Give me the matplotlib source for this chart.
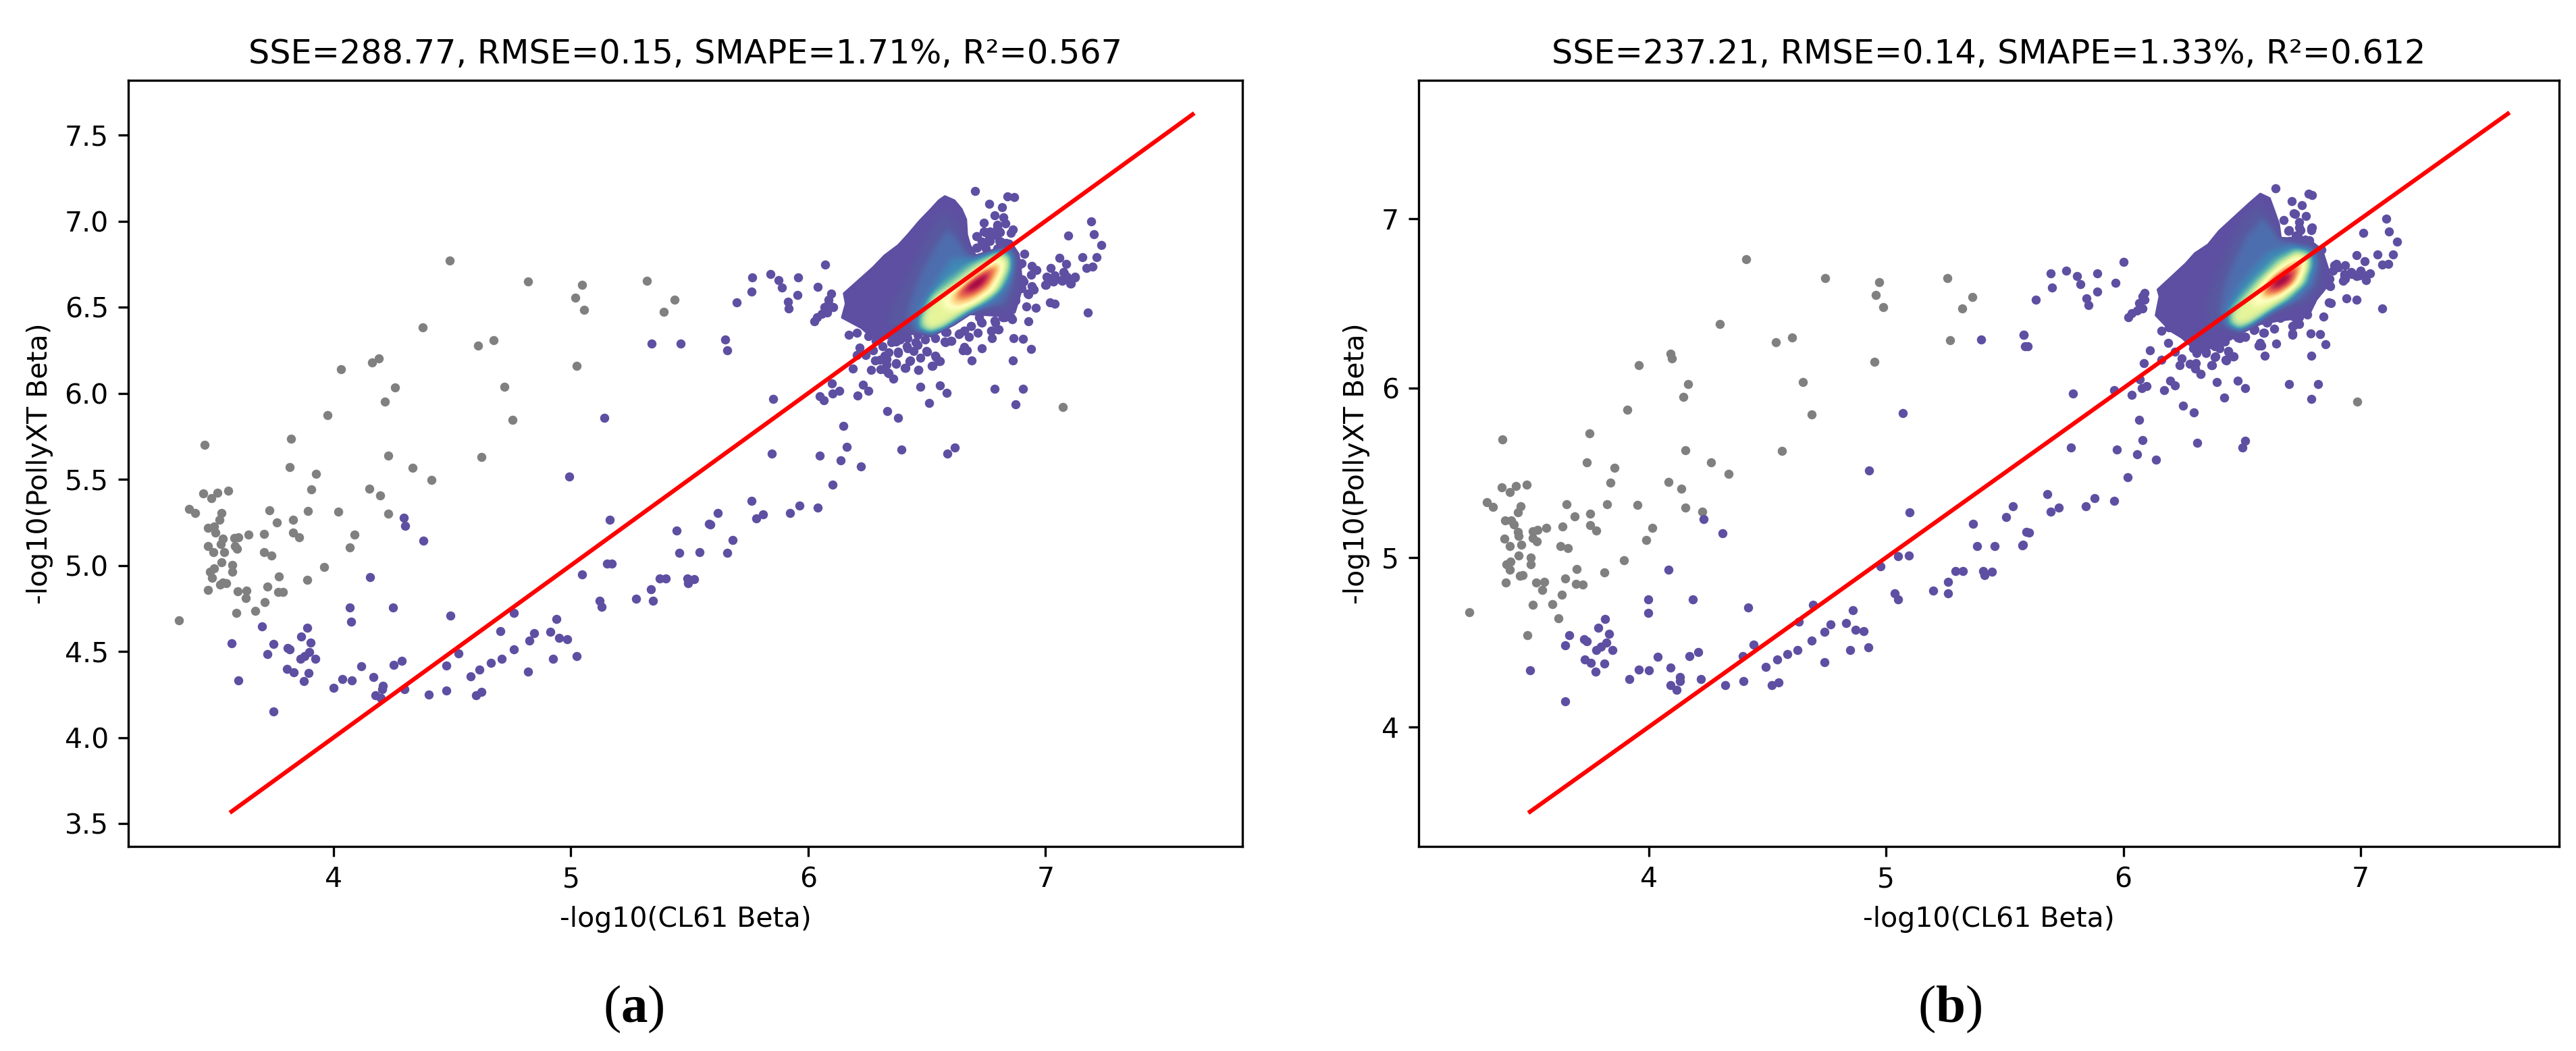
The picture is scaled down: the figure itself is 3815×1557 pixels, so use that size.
import numpy as np
import matplotlib
matplotlib.use("Agg")
import matplotlib.pyplot as plt
from matplotlib.colors import LinearSegmentedColormap
from matplotlib.path import Path
from matplotlib.patches import PathPatch

plt.rcParams["mathtext.fontset"] = "custom"
plt.rcParams["mathtext.bf"] = "Liberation Serif:bold"
plt.rcParams["mathtext.rm"] = "Liberation Serif"
plt.rcParams["font.size"] = 9.85

TITLE_A = "SSE=288.77, RMSE=0.15, SMAPE=1.71%, R²=0.567"
TITLE_B = "SSE=237.21, RMSE=0.14, SMAPE=1.33%, R²=0.612"
XLABEL = "-log10(CL61 Beta)"
YLABEL = "-log10(PollyXT Beta)"
XTICKS = [4, 5, 6, 7]
YTICKS_A = [3.5, 4.0, 4.5, 5.0, 5.5, 6.0, 6.5, 7.0, 7.5]
YTICKS_B = [4, 5, 6, 7]
LINE_A = [3.57, 7.62]
LINE_B = [3.50, 7.62]

GREY_A = [(3.348,4.679),(3.391,5.327),(3.417,5.303),(3.451,5.417),(3.485,5.390),(3.511,5.423),(3.556,5.432),(3.456,5.700),
(3.528,5.306),(3.520,5.267),(3.472,5.219),(3.495,5.225),(3.502,5.192),(3.533,5.156),(3.525,5.123),(3.471,5.114),(3.493,5.075),
(3.539,5.075),(3.582,5.159),(3.600,5.165),(3.641,5.177),(3.585,5.114),(3.592,5.096),(3.528,5.018),(3.574,5.003),(3.572,4.964),
(3.497,4.982),(3.480,4.964),(3.489,4.928),(3.533,4.901),(3.523,4.889),(3.549,4.895),(3.471,4.856),(3.595,4.850),(3.632,4.853),
(3.629,4.811),(3.590,4.724),(3.670,4.736),(3.709,4.787),(3.722,4.877),(3.766,4.847),(3.788,4.844),(3.770,4.934),(3.889,4.916),
(3.959,4.991),(3.737,5.057),(3.706,5.075),(3.708,5.183),(3.730,5.318),(3.761,5.249),(3.830,5.264),(3.828,5.192),(3.855,5.162),
(3.892,5.315),(3.905,5.441),(3.925,5.532),(3.814,5.571),(3.820,5.736),(3.975,5.871),(4.021,5.312),(4.069,5.105),(4.087,5.177),
(4.230,5.300),(4.152,5.447),(4.196,5.408),(4.230,5.637),(4.333,5.568),(4.412,5.498),(4.217,5.952),(4.260,6.033),(4.031,6.138),
(4.162,6.180),(4.190,6.204),(4.376,6.384),(4.490,6.769),(4.819,6.649),(5.020,6.556),(5.047,6.628),(5.056,6.483),(5.023,6.159),
(4.673,6.309),(4.608,6.276),(4.721,6.036),(4.755,5.847),(4.624,5.631),(5.320,6.655),(5.392,6.474),(5.436,6.544),(7.073,5.920)]

PURPLE_A = [(3.698,4.646),(3.569,4.547),(3.598,4.333),(3.722,4.486),(3.748,4.544),(3.748,4.150),(3.804,4.399),(3.833,4.378),
(3.876,4.327),(3.894,4.375),(3.806,4.520),(3.815,4.511),(3.861,4.456),(3.877,4.474),(3.899,4.498),(3.923,4.456),(3.904,4.550),
(3.864,4.586),(3.889,4.637),(4.000,4.288),(4.036,4.339),(4.077,4.333),(4.118,4.414),(4.167,4.351),(4.176,4.246),(4.204,4.279),
(4.209,4.300),(4.199,4.228),(4.252,4.420),(4.288,4.444),(4.299,4.282),(4.400,4.249),(4.475,4.273),(4.474,4.417),(4.526,4.489),
(4.577,4.354),(4.601,4.246),(4.623,4.267),(4.616,4.396),(4.662,4.432),(4.709,4.456),(4.761,4.514),(4.819,4.381),(4.825,4.562),
(4.845,4.607),(4.704,4.619),(4.761,4.724),(4.492,4.709),(4.250,4.754),(4.069,4.757),(4.075,4.673),(4.154,4.931),(4.296,5.276),
(4.302,5.231),(4.379,5.144),(4.912,4.616),(4.938,4.688),(4.949,4.577),(4.985,4.571),(4.926,4.456),(5.025,4.474),(5.046,4.949),
(4.992,5.517),(5.142,5.856),(5.165,5.267),(5.152,5.009),(5.173,5.012),(5.121,4.796),(5.131,4.760),(5.276,4.808),(5.337,4.862),
(5.345,4.796),(5.373,4.925),(5.400,4.922),(5.492,4.922),(5.494,4.898),(5.520,4.919),(5.458,5.072),(5.541,5.075),(5.446,5.201),
(5.582,5.243),(5.340,6.288),(5.462,6.288),(5.620,5.304),(5.589,5.238),(5.682,5.148),(5.659,5.074),(5.762,5.376),(5.809,5.296),
(5.782,5.274),(5.924,5.304),(5.963,5.348),(6.041,5.336),(6.102,5.470),(6.223,5.576),(6.136,5.610),(6.048,5.638),(5.847,5.650),
(6.162,5.690),(6.148,5.812),(6.394,5.674),(6.587,5.648),(6.618,5.684),(6.334,5.896),(6.380,5.856),(6.510,5.944),(5.853,5.966),
(6.048,5.984),(6.067,5.960),(6.099,6.056),(6.102,6.000),(6.130,6.014),(6.208,5.988),(6.231,6.048),(6.254,6.014),(6.474,6.036),
(6.554,6.044),(6.585,6.002),(6.786,6.024),(6.906,6.024),(6.875,5.934),(5.649,6.314),(5.659,6.248),(5.698,6.526),(5.760,6.592),
(5.765,6.674),(5.840,6.692),(5.876,6.656),(5.889,6.616),(5.958,6.674),(5.955,6.570),(5.915,6.532),(5.917,6.492),(6.072,6.746),
(6.040,6.618),(6.025,6.418),(6.036,6.440),(6.058,6.460),(6.081,6.470),(6.069,6.500),(6.085,6.520),(6.105,6.500),(6.085,6.544),
(6.098,6.580),(6.172,6.340),(6.205,6.352),(6.254,6.330),(6.285,6.304),(6.216,6.264),(6.205,6.220),(6.241,6.220),(6.273,6.250),
(6.282,6.190),(6.265,6.136),(6.188,6.144),(6.306,6.140),(6.335,6.120),(6.358,6.084),(6.331,6.200),(6.339,6.236),(6.380,6.240),
(6.371,6.170),(6.409,6.146),(6.429,6.190),(6.465,6.134),(6.523,6.158),(6.538,6.210),(6.554,6.188),(6.502,6.240),(6.461,6.280),
(6.420,6.260),(6.371,6.300),(6.420,6.320),(6.461,6.340),(6.535,6.320),(6.576,6.300),(6.603,6.304),(6.584,6.356),(6.638,6.346),
(6.657,6.364),(6.679,6.328),(6.714,6.350),(6.685,6.390),(6.731,6.410),(6.775,6.320),(6.772,6.364),(6.804,6.370),(6.788,6.410),
(6.829,6.440),(6.861,6.430),(6.866,6.320),(6.905,6.316),(6.938,6.258),(6.863,6.190),(6.690,6.190),(6.651,6.250),(6.669,6.250),
(6.657,6.270),(6.733,6.262),(6.929,6.418),(6.920,6.506),(6.960,6.498),(6.875,6.540),(6.927,6.576),(6.951,6.604),(6.943,6.620),
(6.902,6.660),(6.962,6.716),(6.943,6.740),(6.940,6.690),(6.894,6.750),(6.912,6.810),(7.022,6.726),(7.001,6.630),(7.009,6.674),
(7.033,6.650),(7.038,6.684),(7.087,6.752),(7.058,6.786),(7.095,6.916),(7.079,6.696),(7.069,6.654),(7.107,6.636),(7.090,6.676),
(7.123,6.674),(7.156,6.790),(7.173,6.726),(7.197,6.734),(7.214,6.790),(7.234,6.860),(7.205,6.922),(7.192,7.000),(7.020,6.528),
(7.040,6.520),(7.179,6.470),(6.703,7.176),(6.764,7.100),(6.816,7.080),(6.839,7.144),(6.867,7.140),(6.787,7.032),(6.824,7.020),
(6.831,6.988),(6.739,6.992),(6.862,6.950),(6.855,6.932),(6.796,6.964),(6.809,6.936),(6.747,6.936),(6.711,6.914),(6.788,6.920),
(6.764,6.900),(6.731,6.880),(6.711,6.844),(6.812,6.880),(6.845,6.870),
(6.312,6.271),(6.350,6.298),(6.388,6.311),(6.416,6.271),(6.454,6.298),(6.492,6.311),(6.321,6.219),(6.378,6.232),(6.445,6.245),
(6.497,6.245),(6.331,6.167),(6.302,6.193),(6.369,6.173),(6.407,6.147),(6.426,6.186),(6.340,6.115),(6.321,6.141),(6.464,6.134),
(6.521,6.160),(6.549,6.186),(6.535,6.219),(6.473,6.206),(6.900,6.755),(6.909,6.650),(6.900,6.611),(6.924,6.579),(6.947,6.605),
(6.871,6.546),(6.853,6.441),(6.819,6.441),(6.720,6.441),(6.687,6.389),(6.729,6.415),(6.634,6.343),(6.658,6.363),(6.577,6.356),
(6.577,6.298),(6.601,6.304),(6.772,6.363),(6.800,6.369),(6.786,6.422),(7.004,6.677),(7.033,6.650),(7.000,6.631),(7.066,6.657),
(7.104,6.637),(7.123,6.677),(7.075,6.703),(6.710,6.912),(6.739,6.938),(6.767,6.938),(6.805,6.938),(6.796,6.977),(6.710,6.847),
(6.739,6.873),(6.767,6.886),(6.805,6.886),(6.834,6.873),(6.748,6.840),(6.796,6.840)]

GREY_B = [(3.245,4.679),(3.317,5.328),(3.343,5.300),(3.381,5.413),(3.414,5.386),(3.440,5.422),(3.487,5.432),(3.383,5.697),
(3.461,5.303),(3.448,5.267),(3.396,5.218),(3.422,5.221),(3.432,5.194),(3.450,5.151),(3.453,5.127),(3.391,5.111),(3.414,5.069),
(3.463,5.075),(3.512,5.154),(3.531,5.163),(3.570,5.175),(3.512,5.114),(3.530,5.096),(3.451,5.014),(3.503,5.002),(3.503,4.962),
(3.417,4.977),(3.401,4.962),(3.414,4.928),(3.458,4.892),(3.469,4.895),(3.397,4.852),(3.525,4.852),(3.559,4.855),(3.553,4.807),
(3.513,4.721),(3.595,4.727),(3.633,4.782),(3.647,4.877),(3.693,4.843),(3.721,4.840),(3.698,4.931),(3.812,4.913),(3.896,4.986),
(3.659,5.054),(3.628,5.069),(3.636,5.185),(3.655,5.313),(3.688,5.243),(3.753,5.261),(3.755,5.191),(3.778,5.160),(3.824,5.313),
(3.840,5.441),(3.856,5.529),(3.740,5.563),(3.750,5.733),(3.910,5.871),(3.954,5.310),(3.990,5.102),(4.015,5.175),(4.155,5.297),
(4.085,5.447),(4.137,5.407),(4.226,5.270),(4.155,5.633),(4.262,5.560),(4.338,5.496),(4.147,5.950),(4.165,6.026),(3.959,6.136),
(4.092,6.203),(4.098,6.175),(4.299,6.380),(4.410,6.761),(4.744,6.648),(4.958,6.550),(4.971,6.624),(4.989,6.477),(4.951,6.157),
(4.603,6.300),(4.536,6.273),(4.649,6.035),(4.688,5.843),(4.561,5.630),(5.258,6.651),(5.322,6.471),(5.363,6.538),(5.271,6.285),
(3.489,4.541),(3.621,4.642),(6.986,5.922)]

PURPLE_B = [(3.500,4.334),(3.647,4.483),(3.665,4.541),(3.647,4.151),(3.729,4.517),(3.740,4.508),(3.731,4.398),(3.757,4.377),
(3.776,4.325),(3.812,4.374),(3.780,4.456),(3.799,4.474),(3.822,4.499),(3.848,4.456),(3.832,4.550),(3.788,4.587),(3.816,4.636),
(3.919,4.285),(3.959,4.337),(4.002,4.334),(4.038,4.413),(4.093,4.349),(4.093,4.246),(4.118,4.221),(4.131,4.297),(4.131,4.273),
(4.173,4.419),(4.208,4.444),(4.221,4.282),(4.322,4.246),(4.399,4.273),(4.397,4.419),(4.443,4.486),(4.494,4.355),(4.518,4.246),
(4.548,4.264),(4.541,4.398),(4.584,4.432),(4.628,4.456),(4.687,4.511),(4.742,4.383),(4.742,4.560),(4.767,4.605),(4.633,4.621),
(4.691,4.721),(4.420,4.706),(4.185,4.752),(3.999,4.755),(3.999,4.672),(4.085,4.929),(4.231,5.227),(4.312,5.142),(4.832,4.614),
(4.860,4.688),(4.871,4.575),(4.905,4.566),(4.848,4.456),(4.925,4.471),(4.976,4.947),(4.928,5.514),(5.071,5.852),(5.100,5.267),
(5.052,5.008),(5.095,5.011),(5.036,4.791),(5.051,4.755),(5.198,4.803),(5.260,4.858),(5.262,4.791),(5.294,4.922),(5.324,4.919),
(5.409,4.919),(5.414,4.898),(5.446,4.916),(5.384,5.069),(5.459,5.069),(5.366,5.200),(5.507,5.239),(5.535,5.303),(5.575,5.072),
(5.590,5.151),(5.400,6.288),(5.579,6.313),(5.587,6.249),(5.604,5.149),(5.577,5.074),(5.679,5.375),(5.729,5.294),(5.695,5.273),
(5.842,5.304),(5.879,5.349),(5.962,5.336),(6.018,5.473),(6.139,5.576),(6.057,5.609),(5.974,5.639),(5.780,5.651),(6.081,5.692),
(6.067,5.814),(6.310,5.676),(6.501,5.649),(6.514,5.688),(6.252,5.897),(6.296,5.857),(6.425,5.944),(5.789,5.969),(6.034,5.962),
(5.962,5.987),(6.070,6.054),(6.079,6.000),(6.098,6.013),(6.173,5.987),(6.197,6.046),(6.216,6.017),(6.395,6.036),(6.483,6.046),
(6.514,6.001),(6.699,6.025),(6.820,6.025),(6.792,5.936),(5.580,6.314),(5.596,6.249),(5.632,6.523),(5.700,6.593),(5.695,6.676),
(5.759,6.694),(5.805,6.660),(5.820,6.615),(5.889,6.676),(5.889,6.570),(5.846,6.532),(5.853,6.491),(6.002,6.747),(5.966,6.621),
(6.020,6.420),(6.035,6.444),(6.059,6.460),(6.082,6.471),(6.067,6.501),(6.090,6.521),(6.082,6.542),(6.090,6.562),(6.159,6.338),
(6.192,6.359),(6.112,6.223),(6.087,6.147),(6.161,6.166),(6.189,6.267),(6.216,6.217),(6.247,6.176),(6.236,6.135),(6.279,6.145),
(6.302,6.115),(6.324,6.084),(6.373,6.135),(6.388,6.186),(6.432,6.166),(6.464,6.186),(6.443,6.221),(6.349,6.216),(6.294,6.237),
(6.388,6.257),(6.428,6.277),(6.341,6.298),(6.483,6.298),(6.514,6.302),(6.553,6.345),(6.593,6.328),(6.635,6.349),(6.608,6.389),
(6.655,6.420),(6.713,6.322),(6.718,6.369),(6.741,6.379),(6.741,6.420),(6.773,6.444),(6.789,6.322),(6.828,6.318),(6.853,6.259),
(6.792,6.192),(6.597,6.190),(6.570,6.253),(6.580,6.253),(6.577,6.267),(6.644,6.265),(6.843,6.422),(6.867,6.507),(6.875,6.501),
(6.941,6.530),(6.982,6.521),(7.090,6.471),(6.872,6.603),(6.867,6.643),(6.883,6.694),(6.898,6.735),(6.935,6.725),(6.927,6.633),
(6.930,6.674),(6.961,6.684),(7.000,6.694),(7.021,6.639),(6.993,6.664),(7.040,6.678),(6.982,6.786),(7.016,6.751),(7.011,6.918),
(7.071,6.790),(7.090,6.729),(7.115,6.735),(7.137,6.790),(7.154,6.863),(7.118,6.924),(7.109,7.001),(6.640,7.178),(6.709,7.103),
(6.753,7.080),(6.781,7.147),(6.796,7.141),(6.723,7.030),(6.770,7.017),(6.676,6.993),(6.796,6.948),(6.793,6.934),(6.742,6.948),
(6.694,6.928),(6.734,6.897),(6.702,6.867),(6.765,6.877),(6.836,6.816),
(6.319,6.288),(6.357,6.302),(6.395,6.315),(6.433,6.302),(6.471,6.315),(6.328,6.235),(6.385,6.248),(6.423,6.275),(6.347,6.209),
(6.404,6.235),(6.309,6.209),(6.442,6.215),(6.461,6.189),(6.433,6.162),(6.385,6.182),(6.371,6.136),(6.305,6.149),(6.324,6.082),
(6.490,6.295),(6.513,6.302),(6.551,6.344),(6.589,6.328),(6.660,6.414),(6.622,6.421),(6.603,6.388),(6.713,6.368),(6.731,6.381),
(6.713,6.315),(6.717,6.421),(6.774,6.434),(6.746,6.461),(6.793,6.514),(6.826,6.580),(6.869,6.607),(6.869,6.647),(6.907,6.713),
(6.888,6.726),(6.931,6.667),(6.964,6.673),(6.997,6.687),(7.021,6.667),(6.935,6.647),(6.983,6.660),(6.717,7.032),(6.741,6.979),
(6.746,6.932),(6.698,6.932),(6.727,6.899),(6.793,6.946),(6.784,6.873)]

# Density bands of the central cloud, read as nested outlines, outermost first
BAND_COLORS = ["#5e4fa2", "#58589f", "#4e6eae", "#3f87b6", "#5fb8a8", "#a9dca4", "#e6f59a", "#ffffbf",
               "#fdd080", "#f08050", "#d53e4f", "#9e0142"]

BANDS_A = [
[(6.576,7.144),(6.616,7.120),(6.646,7.070),(6.665,7.010),(6.669,6.920),(6.682,6.860),(6.706,6.800),(6.796,6.840),(6.862,6.860),
 (6.886,6.810),(6.894,6.740),(6.902,6.620),(6.886,6.540),(6.870,6.470),(6.813,6.450),(6.682,6.460),(6.616,6.400),(6.518,6.330),
 (6.453,6.350),(6.371,6.320),(6.273,6.320),(6.224,6.380),(6.143,6.440),(6.159,6.520),(6.151,6.580),(6.208,6.650),(6.273,6.730),
 (6.322,6.800),(6.380,6.860),(6.420,6.920),(6.469,7.000),(6.518,7.070),(6.551,7.120)],
[(6.568,7.056),(6.634,6.977),(6.663,6.860),(6.701,6.801),(6.852,6.860),(6.886,6.794),(6.881,6.611),(6.852,6.494),(6.701,6.467),
 (6.615,6.402),(6.511,6.337),(6.435,6.350),(6.378,6.376),(6.331,6.402),(6.350,6.507),(6.407,6.650),(6.473,6.847),(6.521,6.977)],
[(6.587,6.951),(6.634,6.886),(6.658,6.820),(6.691,6.781),(6.852,6.847),(6.876,6.781),(6.862,6.637),(6.824,6.520),(6.701,6.481),
 (6.606,6.402),(6.521,6.343),(6.454,6.363),(6.416,6.454),(6.445,6.585),(6.483,6.716),(6.540,6.860)],
[(6.606,6.781),(6.663,6.781),(6.834,6.847),(6.862,6.781),(6.852,6.664),(6.786,6.546),(6.691,6.467),(6.577,6.363),(6.521,6.337),
 (6.454,6.363),(6.464,6.467),(6.511,6.585),(6.559,6.690)],
[(6.511,6.559),(6.577,6.650),(6.672,6.742),(6.786,6.827),(6.852,6.814),(6.862,6.729),(6.824,6.611),(6.758,6.533),(6.672,6.467),
 (6.587,6.376),(6.521,6.343),(6.473,6.369),(6.464,6.428)],
[(6.525,6.566),(6.596,6.637),(6.691,6.742),(6.796,6.814),(6.848,6.794),(6.852,6.729),(6.805,6.598),(6.739,6.533),(6.653,6.467),
 (6.568,6.376),(6.511,6.356),(6.478,6.389),(6.478,6.441)],
[(6.535,6.559),(6.615,6.631),(6.710,6.735),(6.805,6.805),(6.838,6.781),(6.838,6.729),(6.796,6.598),(6.720,6.520),(6.634,6.454),
 (6.559,6.389),(6.506,6.376),(6.487,6.415),(6.492,6.467)],
[(6.577,6.572),(6.644,6.624),(6.729,6.716),(6.800,6.775),(6.824,6.762),(6.819,6.703),(6.777,6.592),(6.701,6.520),(6.625,6.481),
 (6.577,6.487),(6.563,6.533)],
[(6.606,6.572),(6.663,6.637),(6.739,6.716),(6.796,6.762),(6.813,6.749),(6.805,6.690),(6.758,6.592),(6.682,6.526),(6.625,6.507),
 (6.601,6.533)],
[(6.625,6.585),(6.682,6.650),(6.748,6.716),(6.791,6.749),(6.796,6.716),(6.758,6.624),(6.691,6.559),(6.639,6.539),(6.620,6.552)],
[(6.639,6.605),(6.701,6.677),(6.758,6.722),(6.777,6.716),(6.762,6.657),(6.710,6.585),(6.658,6.566),(6.636,6.579)],
[(6.663,6.624),(6.710,6.677),(6.748,6.696),(6.758,6.677),(6.734,6.624),(6.691,6.592),(6.668,6.592)],
]

BANDS_B = [
[(6.577,7.147),(6.616,7.121),(6.632,7.060),(6.655,6.969),(6.663,6.887),(6.781,6.877),(6.828,6.826),(6.844,6.786),(6.867,6.684),
 (6.859,6.603),(6.812,6.521),(6.781,6.430),(6.718,6.410),(6.655,6.399),(6.577,6.379),(6.514,6.338),(6.451,6.288),(6.373,6.237),
 (6.294,6.237),(6.247,6.298),(6.200,6.338),(6.137,6.430),(6.153,6.542),(6.145,6.582),(6.200,6.653),(6.263,6.735),(6.302,6.796),
 (6.357,6.847),(6.404,6.928),(6.467,7.009),(6.530,7.090)],
[(6.566,7.085),(6.622,7.005),(6.656,6.899),(6.708,6.873),(6.812,6.846),(6.841,6.740),(6.831,6.594),(6.774,6.501),(6.670,6.461),
 (6.584,6.394),(6.490,6.328),(6.414,6.355),(6.357,6.381),(6.347,6.514),(6.395,6.687),(6.452,6.886),(6.509,7.019)],
[(6.584,7.005),(6.637,6.926),(6.660,6.873),(6.727,6.859),(6.803,6.826),(6.826,6.740),(6.803,6.607),(6.746,6.527),(6.641,6.461),
 (6.566,6.394),(6.490,6.335),(6.433,6.361),(6.404,6.448),(6.423,6.594),(6.461,6.740),(6.518,6.899)],
[(6.613,6.806),(6.708,6.846),(6.793,6.819),(6.807,6.740),(6.784,6.620),(6.708,6.514),(6.622,6.448),(6.537,6.368),(6.490,6.335),
 (6.433,6.368),(6.433,6.461),(6.480,6.594),(6.547,6.713)],
[(6.490,6.541),(6.556,6.647),(6.641,6.766),(6.727,6.826),(6.788,6.813),(6.798,6.740),(6.769,6.620),(6.698,6.527),(6.613,6.448),
 (6.528,6.361),(6.485,6.341),(6.442,6.381),(6.442,6.461)],
[(6.504,6.541),(6.566,6.640),(6.651,6.753),(6.727,6.813),(6.779,6.800),(6.788,6.733),(6.760,6.620),(6.689,6.527),(6.603,6.448),
 (6.528,6.375),(6.485,6.361),(6.452,6.394),(6.456,6.454)],
[(6.513,6.527),(6.575,6.627),(6.660,6.740),(6.727,6.800),(6.769,6.786),(6.779,6.726),(6.750,6.620),(6.679,6.534),(6.594,6.454),
 (6.528,6.394),(6.485,6.381),(6.461,6.401),(6.471,6.461)],
[(6.547,6.541),(6.603,6.647),(6.670,6.726),(6.727,6.780),(6.762,6.766),(6.767,6.720),(6.736,6.620),(6.670,6.547),(6.603,6.501),
 (6.556,6.481),(6.537,6.501)],
[(6.580,6.580),(6.622,6.660),(6.679,6.720),(6.727,6.760),(6.750,6.746),(6.750,6.700),(6.717,6.607),(6.660,6.554),(6.603,6.527),
 (6.580,6.541)],
[(6.589,6.587),(6.632,6.660),(6.689,6.713),(6.727,6.733),(6.741,6.720),(6.736,6.680),(6.703,6.607),(6.651,6.560),(6.608,6.547),
 (6.589,6.560)],
[(6.603,6.600),(6.646,6.667),(6.698,6.707),(6.722,6.700),(6.722,6.653),(6.689,6.607),(6.646,6.574),(6.613,6.574)],
[(6.627,6.620),(6.665,6.667),(6.698,6.680),(6.703,6.647),(6.679,6.614),(6.646,6.594),(6.627,6.594)],
]

BAND_CMAP = LinearSegmentedColormap.from_list("bands", BAND_COLORS, N=512)


def ring_path(points):
    p = np.array(points + [points[0]], dtype=float)
    return Path(p, closed=True)


def soften(field, sigma):
    half = int(3 * sigma)
    k = np.exp(-0.5 * (np.arange(-half, half + 1) / sigma) ** 2)
    k /= k.sum()
    field = np.apply_along_axis(lambda v: np.convolve(v, k, mode="same"), 0, field)
    return np.apply_along_axis(lambda v: np.convolve(v, k, mode="same"), 1, field)


def draw_cloud(ax, bands):
    outer = np.array(bands[0])
    x0, x1 = outer[:, 0].min() - 0.02, outer[:, 0].max() + 0.02
    y0, y1 = outer[:, 1].min() - 0.02, outer[:, 1].max() + 0.02
    xs = np.linspace(x0, x1, int((x1 - x0) * 700))
    ys = np.linspace(y0, y1, int((y1 - y0) * 510))
    gx, gy = np.meshgrid(xs, ys)
    pts = np.column_stack([gx.ravel(), gy.ravel()])
    level = np.zeros(gx.shape)
    for ring in bands[1:]:
        level += ring_path(ring).contains_points(pts).reshape(gx.shape)
    level = soften(level, 9)
    patch = PathPatch(ring_path(bands[0]), facecolor=BAND_COLORS[0], edgecolor=BAND_COLORS[0],
                      lw=0.8, joinstyle="round", zorder=3)
    ax.add_patch(patch)
    im = ax.imshow(level, extent=(x0, x1, y0, y1), origin="lower", cmap=BAND_CMAP, vmin=0,
                   vmax=len(bands) - 1, aspect="auto", interpolation="bilinear", zorder=3.1)
    im.set_clip_path(patch)


def panel(ax, grey, purple, bands, line, xlim, ylim, yticks, title):
    g = np.array(grey)
    q = np.array(purple)
    ax.scatter(g[:, 0], g[:, 1], s=10.5, color="#808080", linewidths=0, zorder=2)
    ax.scatter(q[:, 0], q[:, 1], s=10.5, color="#5e4fa2", linewidths=0, zorder=2)
    draw_cloud(ax, bands)
    ax.plot(line, line, color="red", lw=1.5, zorder=5)
    ax.set_xlim(*xlim)
    ax.set_ylim(*ylim)
    ax.set_xticks(XTICKS)
    ax.set_yticks(yticks)
    ax.set_xlabel(XLABEL, labelpad=4.5)
    ax.set_ylabel(YLABEL)
    ax.set_title(title, fontsize=11.82)


W, H = 3815, 1557
fig = plt.figure(figsize=(W / 300, H / 300), dpi=300)
ax_a = fig.add_axes([190 / W, 1 - 1254 / H, 1650 / W, 1135 / H])
ax_b = fig.add_axes([2101 / W, 1 - 1254 / H, 1689 / W, 1135 / H])
panel(ax_a, GREY_A, PURPLE_A, BANDS_A, LINE_A, (3.135, 7.83), (3.367, 7.818), YTICKS_A, TITLE_A)
panel(ax_b, GREY_B, PURPLE_B, BANDS_B, LINE_B, (3.031, 7.836), (3.295, 7.817), YTICKS_B, TITLE_B)

for label, xc in (("a", 938 / W), ("b", 2888 / W)):
    fig.text(xc, 1 - 1495 / H, "($\\mathbf{" + label + "}$)", family="Liberation Serif",
             fontsize=19, ha="center", va="center")

fig.savefig("out.png", dpi=300)
